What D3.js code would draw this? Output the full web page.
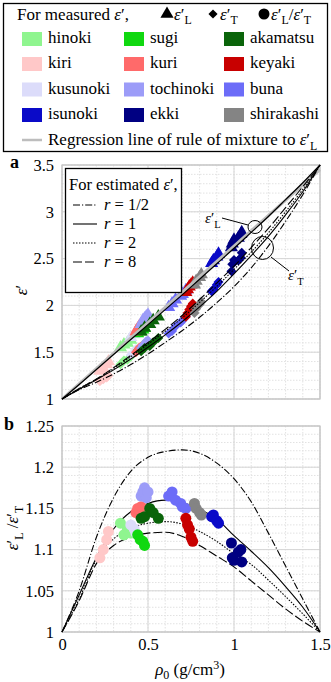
<!DOCTYPE html>
<html>
<head>
<meta charset="utf-8">
<script src="https://cdn.jsdelivr.net/npm/d3@7"></script>
<style>
  body { margin: 0; background: #fff; }
  svg, svg text, svg tspan { font-family: "Liberation Serif", "Times New Roman", Times, "DejaVu Serif", serif !important; }
</style>
</head>
<body>
<svg id="chart" width="331" height="682" font-family="Liberation Serif, Times New Roman, serif"></svg>
<script>
// model curves at 0.1 g/cm3 steps
const rhoGrid = [0, 0.1, 0.2, 0.3, 0.4, 0.5, 0.6, 0.7, 0.8, 0.9, 1.0, 1.1, 1.2, 1.3, 1.4, 1.5]
const epsLModel = [1, 1.155, 1.315, 1.475, 1.635, 1.795, 1.955, 2.115, 2.28, 2.445, 2.61, 2.78, 2.95, 3.13, 3.31, 3.5]
const epsTHalf  = [1, 1.100, 1.179, 1.268, 1.368, 1.481, 1.604, 1.732, 1.873, 2.029, 2.201, 2.401, 2.634, 2.898, 3.183, 3.5]
const epsTOne   = [1, 1.105, 1.206, 1.311, 1.427, 1.553, 1.685, 1.828, 1.984, 2.150, 2.337, 2.532, 2.737, 2.967, 3.214, 3.5]
const epsTTwo   = [1, 1.111, 1.209, 1.325, 1.452, 1.586, 1.724, 1.870, 2.032, 2.203, 2.384, 2.569, 2.775, 3.001, 3.239, 3.5]
const epsTEight = [1, 1.113, 1.214, 1.335, 1.466, 1.603, 1.744, 1.895, 2.063, 2.239, 2.419, 2.618, 2.823, 3.045, 3.268, 3.5]
const ratioHalf  = [1, 1.05, 1.115, 1.163, 1.195, 1.212, 1.219, 1.221, 1.217, 1.205, 1.186, 1.158, 1.12, 1.08, 1.04, 1]
const ratioOne   = [1, 1.045, 1.09, 1.125, 1.146, 1.156, 1.16, 1.157, 1.149, 1.137, 1.117, 1.098, 1.078, 1.055, 1.03, 1]
const ratioTwo   = [1, 1.04, 1.088, 1.113, 1.126, 1.132, 1.134, 1.131, 1.122, 1.11, 1.095, 1.082, 1.063, 1.043, 1.022, 1]
const ratioEight = [1, 1.038, 1.083, 1.105, 1.115, 1.12, 1.121, 1.116, 1.105, 1.092, 1.079, 1.062, 1.045, 1.028, 1.013, 1]
const regressionRho = [0, 1.5]
const regressionEps = [1.0, 3.45]

const rLabels = ['1/2', '1', '2', '8']

// species legend (row by row)
const speciesNames  = ['hinoki', 'sugi', 'akamatsu', 'kiri', 'kuri', 'keyaki', 'kusunoki', 'tochinoki', 'buna', 'isunoki', 'ekki', 'shirakashi']
const speciesColors = ['#8ff58f', '#10d810', '#0a640a', '#ffc8c8', '#ff6a6a', '#c80000', '#dcdcfa', '#9c9cf8', '#6c6cf8', '#0a0ac8', '#000082', '#848484']

// measured samples
const sampleSpecies = [
  'kiri', 'kiri', 'kiri', 'kiri',
  'hinoki', 'hinoki', 'hinoki', 'hinoki',
  'kusunoki', 'kusunoki', 'kusunoki',
  'sugi', 'sugi', 'sugi', 'sugi',
  'kuri', 'kuri', 'kuri', 'kuri',
  'tochinoki', 'tochinoki', 'tochinoki', 'tochinoki', 'tochinoki',
  'akamatsu', 'akamatsu', 'akamatsu', 'akamatsu', 'akamatsu',
  'buna', 'buna', 'buna', 'buna', 'buna', 'buna',
  'keyaki', 'keyaki', 'keyaki', 'keyaki', 'keyaki',
  'shirakashi', 'shirakashi', 'shirakashi', 'shirakashi',
  'isunoki', 'isunoki', 'isunoki', 'isunoki',
  'ekki', 'ekki', 'ekki', 'ekki', 'ekki', 'ekki']
const sampleRho = [
  0.22, 0.24, 0.26, 0.27,
  0.34, 0.36, 0.38, 0.40,
  0.40, 0.42, 0.43,
  0.44, 0.455, 0.47, 0.48,
  0.43, 0.44, 0.45, 0.46,
  0.46, 0.47, 0.48, 0.49, 0.50,
  0.46, 0.48, 0.51, 0.53, 0.56,
  0.62, 0.64, 0.66, 0.69, 0.70, 0.72,
  0.72, 0.73, 0.74, 0.75, 0.76,
  0.77, 0.78, 0.80, 0.81,
  0.87, 0.88, 0.90, 0.91,
  0.985, 0.99, 1.0, 1.025, 1.04, 1.045]
const sampleEpsL = [
  1.30, 1.33, 1.37, 1.40,
  1.55, 1.58, 1.60, 1.63,
  1.66, 1.69, 1.72,
  1.70, 1.72, 1.74, 1.76,
  1.72, 1.75, 1.78, 1.80,
  1.80, 1.84, 1.86, 1.88, 1.90,
  1.72, 1.76, 1.80, 1.84, 1.88,
  1.98, 2.02, 2.06, 2.10, 2.12, 2.16,
  2.14, 2.17, 2.20, 2.22, 2.24,
  2.22, 2.26, 2.30, 2.33,
  2.45, 2.48, 2.52, 2.55,
  2.62, 2.66, 2.70, 2.72, 2.76, 2.78]
const sampleEpsT = [
  1.19, 1.21, 1.23, 1.25,
  1.37, 1.41, 1.42, 1.455,
  1.47, 1.50, 1.535,
  1.52, 1.545, 1.57, 1.59,
  1.50, 1.52, 1.55, 1.56,
  1.545, 1.573, 1.583, 1.617, 1.624,
  1.51, 1.544, 1.565, 1.607, 1.652,
  1.70, 1.726, 1.776, 1.817, 1.84, 1.878,
  1.88, 1.92, 1.956, 1.99, 2.02,
  1.92, 1.965, 2.01, 2.04,
  2.15, 2.17, 2.22, 2.25,
  2.365, 2.44, 2.484, 2.48, 2.51, 2.562]
const sampleRatio = [
  1.09, 1.10, 1.112, 1.122,
  1.132, 1.118, 1.125, 1.12,
  1.13, 1.125, 1.12,
  1.118, 1.112, 1.11, 1.105,
  1.145, 1.15, 1.148, 1.152,
  1.165, 1.17, 1.175, 1.163, 1.17,
  1.138, 1.14, 1.15, 1.145, 1.138,
  1.165, 1.17, 1.16, 1.156, 1.152, 1.15,
  1.138, 1.13, 1.125, 1.115, 1.11,
  1.156, 1.15, 1.145, 1.142,
  1.14, 1.142, 1.135, 1.132,
  1.108, 1.09, 1.087, 1.097, 1.10, 1.085]

const xTicks = [0, 0.5, 1, 1.5]
const yTicksA = [1, 1.5, 2, 2.5, 3, 3.5]
const yTicksB = [1, 1.05, 1.1, 1.15, 1.2, 1.25]

// ---------------------------------------------------------------
const svg = d3.select('#chart')
const colorOf = d3.scaleOrdinal().domain(speciesNames).range(speciesColors)
const dashOf = ['7,2,1.2,2', null, '1.5,1.5', '9,3']
const curvesT = [epsTHalf, epsTOne, epsTTwo, epsTEight]
const curvesR = [ratioHalf, ratioOne, ratioTwo, ratioEight]

const x = d3.scaleLinear().domain([0, 1.5]).range([62, 320])
const yA = d3.scaleLinear().domain([1, 3.5]).range([399, 165])
const yB = d3.scaleLinear().domain([1, 1.25]).range([632, 426])

// epsilon with prime and optional subscript; returns the dy owed by the next tspan
function eps(t, sub, size, drop) {
  t.append('tspan').style('font-style', 'italic').text('ε')
  t.append('tspan').text('′')
  if(sub) {
    const dy = size * (drop || 0.3)
    t.append('tspan').attr('dy', dy).style('font-size', (size * 0.7) + 'px').text(sub)
    return -dy
  }
  return 0
}

function frame(y, minorStep, majorStep) {
  const g = svg.append('g')
  const [y0, y1] = y.domain()
  const xs = d3.range(0, 1.5001, 0.1)
  const ys = d3.range(0, Math.round((y1 - y0) / minorStep) + 1).map(i => y0 + i * minorStep)
  g.selectAll('.vx').data(xs).enter().append('line')
    .attr('x1', d => x(d)).attr('x2', d => x(d))
    .attr('y1', y.range()[1]).attr('y2', y.range()[0])
    .attr('stroke', '#e2e2e2').attr('stroke-dasharray', '1.5,1.5')
  g.selectAll('.hy').data(ys).enter().append('line')
    .attr('x1', x(0)).attr('x2', x(1.5))
    .attr('y1', d => y(d)).attr('y2', d => y(d))
    .attr('stroke', '#e2e2e2').attr('stroke-dasharray', '1.5,1.5')
  g.selectAll('.mx').data(xTicks).enter().append('line')
    .attr('x1', d => x(d)).attr('x2', d => x(d))
    .attr('y1', y.range()[1]).attr('y2', y.range()[0])
    .attr('stroke', '#d6d6d6')
  const majors = d3.range(0, Math.round((y1 - y0) / majorStep) + 1).map(i => y0 + i * majorStep)
  g.selectAll('.my').data(majors).enter().append('line')
    .attr('x1', x(0)).attr('x2', x(1.5))
    .attr('y1', d => y(d)).attr('y2', d => y(d))
    .attr('stroke', '#d6d6d6')
  g.append('rect')
    .attr('x', x(0)).attr('y', y.range()[1])
    .attr('width', x(1.5) - x(0)).attr('height', y.range()[0] - y.range()[1])
    .attr('fill', 'none').attr('stroke', '#c4c4c4').attr('stroke-width', 1.2)
}

function yAxis(y, ticks) {
  const g = svg.append('g').attr('transform', `translate(${x(0)},0)`)
    .call(d3.axisLeft(y).tickValues(ticks).tickSize(0).tickPadding(8).tickFormat(d => String(d)))
  g.attr('font-family', null)
  g.select('.domain').remove()
  g.selectAll('text').attr('fill', '#000').style('font-size', '16.5px')
}

// ---------------- top legend ----------------
const leg = svg.append('g')
leg.append('rect').attr('x', 3.5).attr('y', 3.5).attr('width', 324).attr('height', 148)
  .attr('fill', '#fff').attr('stroke', '#000').attr('stroke-width', 1.3)
const head = leg.append('text').attr('x', 17).attr('y', 20).style('font-size', '17px')
head.append('tspan').text('For measured ')
eps(head, null, 17)
head.append('tspan').text(',')

leg.append('path').attr('d', d3.symbol(d3.symbolTriangle, 75)())
  .attr('transform', 'translate(167,14)').attr('fill', '#000')
eps(leg.append('text').attr('x', 174).attr('y', 20).style('font-size', '17px'), 'L', 17, 0.22)
leg.append('path').attr('d', d3.symbol(d3.symbolSquare, 42)())
  .attr('transform', 'translate(213,14) rotate(45)').attr('fill', '#000')
eps(leg.append('text').attr('x', 220).attr('y', 20).style('font-size', '17px'), 'T', 17, 0.22)
leg.append('circle').attr('cx', 264).attr('cy', 14).attr('r', 5.5).attr('fill', '#000')
const rl = leg.append('text').attr('x', 271).attr('y', 20).style('font-size', '17px')
const back = eps(rl, 'L', 17, 0.22)
rl.append('tspan').attr('dy', back).text('/')
eps(rl, 'T', 17, 0.22)

const colX = [22, 124, 224]
const rowY = [39, 64, 89.5, 115]
const items = leg.selectAll('.sp').data(speciesNames).enter().append('g')
  .attr('transform', (d, i) => `translate(${colX[i % 3]},${rowY[Math.floor(i / 3)]})`)
items.append('rect').attr('x', 0).attr('y', -7).attr('width', 20).attr('height', 14)
  .attr('fill', d => colorOf(d))
items.append('text').attr('x', 26).attr('y', 4).style('font-size', '17px').text(d => d)

leg.append('line').attr('x1', 22).attr('x2', 42).attr('y1', 140).attr('y2', 140)
  .attr('stroke', '#bdbdbd').attr('stroke-width', 2.5)
const regT = leg.append('text').attr('x', 48).attr('y', 145).style('font-size', '17px')
regT.append('tspan').text('Regression line of rule of mixture to ')
eps(regT, 'L', 17)

// ---------------- panel a ----------------
frame(yA, 0.1, 0.5)
yAxis(yA, yTicksA)

const line = d3.line().x(d => x(d[0])).y(d => d[1]).curve(d3.curveMonotoneX)
const gA = svg.append('g')
const samples = sampleRho.map((r, i) => ({rho: r, L: sampleEpsL[i], T: sampleEpsT[i], q: sampleRatio[i], sp: sampleSpecies[i]}))

gA.selectAll('.tri').data(samples).enter().append('path')
  .attr('d', d3.symbol(d3.symbolTriangle, 75)())
  .attr('transform', d => `translate(${x(d.rho)},${yA(d.L)})`)
  .attr('fill', d => colorOf(d.sp))
gA.selectAll('.dia').data(samples).enter().append('path')
  .attr('d', d3.symbol(d3.symbolSquare, 50)())
  .attr('transform', d => `translate(${x(d.rho)},${yA(d.T)}) rotate(45)`)
  .attr('fill', d => colorOf(d.sp))

// regression line (grey), then model lines
gA.append('line')
  .attr('x1', x(regressionRho[0])).attr('y1', yA(regressionEps[0]))
  .attr('x2', x(regressionRho[1])).attr('y2', yA(regressionEps[1]))
  .attr('stroke', '#bdbdbd').attr('stroke-width', 3)
gA.append('path').attr('d', line(rhoGrid.map((r, i) => [r, yA(epsLModel[i])])))
  .attr('fill', 'none').attr('stroke', '#000').attr('stroke-width', 1.2)
curvesT.forEach((c, k) => {
  gA.append('path').attr('d', line(rhoGrid.map((r, i) => [r, yA(c[i])])))
    .attr('fill', 'none').attr('stroke', '#000').attr('stroke-width', 1.1)
    .attr('stroke-dasharray', dashOf[k])
})

// annotations
gA.append('ellipse').attr('cx', 255).attr('cy', 227).attr('rx', 7).attr('ry', 6.5)
  .attr('fill', 'none').attr('stroke', '#000')
gA.append('line').attr('x1', 222).attr('y1', 218).attr('x2', 248).attr('y2', 225).attr('stroke', '#000')
eps(gA.append('text').attr('x', 205).attr('y', 223).style('font-size', '15px'), 'L', 15)
gA.append('ellipse').attr('cx', 262.5).attr('cy', 248).attr('rx', 11).attr('ry', 11.5)
  .attr('fill', 'none').attr('stroke', '#000')
gA.append('line').attr('x1', 271).attr('y1', 257).attr('x2', 289).attr('y2', 271).attr('stroke', '#000')
eps(gA.append('text').attr('x', 288).attr('y', 280).style('font-size', '15px'), 'T', 15)

// inner legend
const lg = svg.append('g')
lg.append('rect').attr('x', 65.5).attr('y', 168.5).attr('width', 116).attr('height', 124)
  .attr('fill', '#fff').attr('stroke', '#000').attr('stroke-width', 1.3)
const lh = lg.append('text').attr('x', 69).attr('y', 190).style('font-size', '16.5px')
lh.append('tspan').text('For estimated ')
eps(lh, null, 16.5)
lh.append('tspan').text(',')
rLabels.forEach((lab, k) => {
  const yy = 210 + k * 19
  lg.append('line').attr('x1', 73).attr('x2', 97).attr('y1', yy - 5).attr('y2', yy - 5)
    .attr('stroke', '#000').attr('stroke-width', 1.1).attr('stroke-dasharray', dashOf[k])
  const t = lg.append('text').attr('x', 104).attr('y', yy).style('font-size', '16.5px')
  t.append('tspan').style('font-style', 'italic').text('r')
  t.append('tspan').text(' = ' + lab)
})

svg.append('text').attr('x', 10).attr('y', 168).style('font-size', '18px').style('font-weight', 'bold').text('a')
const ya = svg.append('text').attr('transform', 'translate(27,290) rotate(-90)')
  .attr('text-anchor', 'middle').style('font-size', '17px')
eps(ya, null, 17)

// ---------------- panel b ----------------
frame(yB, 0.01, 0.05)
yAxis(yB, yTicksB)

const gB = svg.append('g')
curvesR.forEach((c, k) => {
  gB.append('path').attr('d', line(rhoGrid.map((r, i) => [r, yB(c[i])])))
    .attr('fill', 'none').attr('stroke', '#000').attr('stroke-width', 1.1)
    .attr('stroke-dasharray', dashOf[k])
})
gB.selectAll('.dot').data(samples).enter().append('circle')
  .attr('cx', d => x(d.rho)).attr('cy', d => yB(d.q)).attr('r', 5.5)
  .attr('fill', d => colorOf(d.sp))

svg.append('text').attr('x', 4).attr('y', 430).style('font-size', '18px').style('font-weight', 'bold').text('b')
const yb = svg.append('text').attr('transform', 'translate(18,528) rotate(-90)')
  .attr('text-anchor', 'middle').style('font-size', '17px')
const backB = eps(yb, 'L', 17)
yb.append('tspan').attr('dy', backB).text(' /')
eps(yb, 'T', 17)

const gx = svg.append('g').attr('transform', `translate(0,${yB(1)})`)
  .call(d3.axisBottom(x).tickValues(xTicks).tickSize(0).tickPadding(6).tickFormat(d => String(d)))
gx.attr('font-family', null)
gx.select('.domain').remove()
gx.selectAll('text').attr('fill', '#000').style('font-size', '16.5px')

const xl = svg.append('text').attr('x', 190).attr('y', 675).attr('text-anchor', 'middle').style('font-size', '17px')
xl.append('tspan').style('font-style', 'italic').text('ρ')
xl.append('tspan').attr('dy', 4).style('font-size', '12px').text('0')
xl.append('tspan').attr('dy', -4).text(' (g/cm')
xl.append('tspan').attr('dy', -6).style('font-size', '12px').text('3')
xl.append('tspan').attr('dy', 6).text(')')
</script>
</body>
</html>
